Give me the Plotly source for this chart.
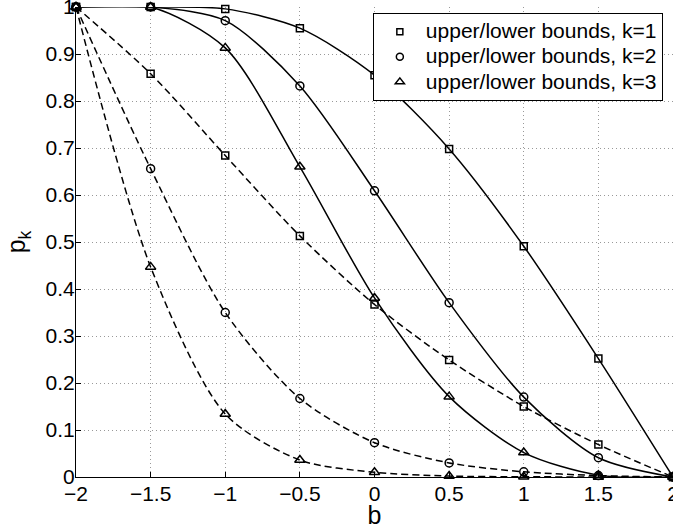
import plotly.graph_objects as go

b_values = [-2, -1.5, -1, -0.5, 0, 0.5, 1, 1.5, 2]

upper_k1 = [1.0, 1.0, 0.996, 0.955, 0.855, 0.698, 0.491, 0.252, 0.0]
upper_k2 = [1.0, 1.0, 0.971, 0.832, 0.609, 0.371, 0.170, 0.041, 0.0]
upper_k3 = [1.0, 1.0, 0.913, 0.660, 0.381, 0.171, 0.052, 0.004, 0.0]

lower_k1 = [1.0, 0.858, 0.684, 0.513, 0.367, 0.249, 0.150, 0.069, 0.0]
lower_k2 = [1.0, 0.656, 0.350, 0.167, 0.073, 0.030, 0.011, 0.003, 0.0]
lower_k3 = [1.0, 0.447, 0.134, 0.036, 0.010, 0.002, 0.0005, 0.0001, 0.0]

legend_labels = ["upper/lower bounds, k=1", "upper/lower bounds, k=2", "upper/lower bounds, k=3"]
x_ticks = [-2, -1.5, -1, -0.5, 0, 0.5, 1, 1.5, 2]
x_tick_text = ["\u22122", "\u22121.5", "\u22121", "\u22120.5", "0", "0.5", "1", "1.5", "2"]
y_ticks = [0, 0.1, 0.2, 0.3, 0.4, 0.5, 0.6, 0.7, 0.8, 0.9, 1]
y_tick_text = ["0", "0.1", "0.2", "0.3", "0.4", "0.5", "0.6", "0.7", "0.8", "0.9", "1"]

symbols = ["square-open", "circle-open", "triangle-up-open"]
sizes = [7, 8, 9]

fig = go.Figure()

series = [(upper_k1, lower_k1), (upper_k2, lower_k2), (upper_k3, lower_k3)]
for i, (up, lo) in enumerate(series):
    fig.add_trace(go.Scatter(
        x=b_values, y=up, mode="lines+markers", showlegend=False,
        line=dict(color="black", width=1.5, shape="spline", smoothing=0.8),
        marker=dict(symbol=symbols[i], size=sizes[i], color="black", line=dict(width=1.5, color="black")),
        cliponaxis=False,
    ))
    fig.add_trace(go.Scatter(
        x=b_values, y=lo, mode="lines+markers", showlegend=False,
        line=dict(color="black", width=1.5, shape="spline", smoothing=0.8, dash="7px,4px"),
        marker=dict(symbol=symbols[i], size=sizes[i], color="black", line=dict(width=1.5, color="black")),
        cliponaxis=False,
    ))

for i in range(3):
    fig.add_trace(go.Scatter(
        x=[None], y=[None], mode="markers",
        name='<span style="font-size:21px">' + legend_labels[i] + "</span>",
        marker=dict(symbol=symbols[i], size=sizes[i] - 1, color="black", line=dict(width=1.5, color="black")),
    ))

fig.update_layout(
    width=673, height=529,
    margin=dict(l=76, r=0, t=7, b=52),
    paper_bgcolor="white", plot_bgcolor="white",
    font=dict(family="Liberation Sans, Arial, Helvetica, sans-serif", size=21, color="black"),
    showlegend=True,
    legend=dict(
        x=0.983, y=0.987, xanchor="right", yanchor="top",
        bordercolor="black", borderwidth=1, bgcolor="white",
        font=dict(size=17), itemwidth=42, tracegroupgap=0,
    ),
)

fig.update_xaxes(
    range=[-2, 2], tickmode="array", tickvals=x_ticks, ticktext=x_tick_text,
    showgrid=True, gridcolor="#999999", griddash="1px,3px", gridwidth=1,
    showline=True, linecolor="black", linewidth=1, mirror=False,
    ticks="inside", ticklen=5, tickcolor="black", zeroline=False,
    ticklabelstandoff=-2, ticklabeloverflow="allow",
    title=dict(text="b", standoff=5), automargin=False,
)
fig.update_yaxes(
    range=[0, 1], tickmode="array", tickvals=y_ticks, ticktext=y_tick_text,
    showgrid=True, gridcolor="#999999", griddash="1px,3px", gridwidth=1,
    showline=True, linecolor="black", linewidth=1, mirror=False,
    ticks="inside", ticklen=5, tickcolor="black", zeroline=False,
    ticklabelstandoff=-4, ticklabeloverflow="allow",
    title=dict(text="p<sub>k</sub>", standoff=12), automargin=False,
)

fig.write_html("out.html", config={"displayModeBar": False},
               post_script="document.body.style.margin='0';document.body.style.padding='0';")
